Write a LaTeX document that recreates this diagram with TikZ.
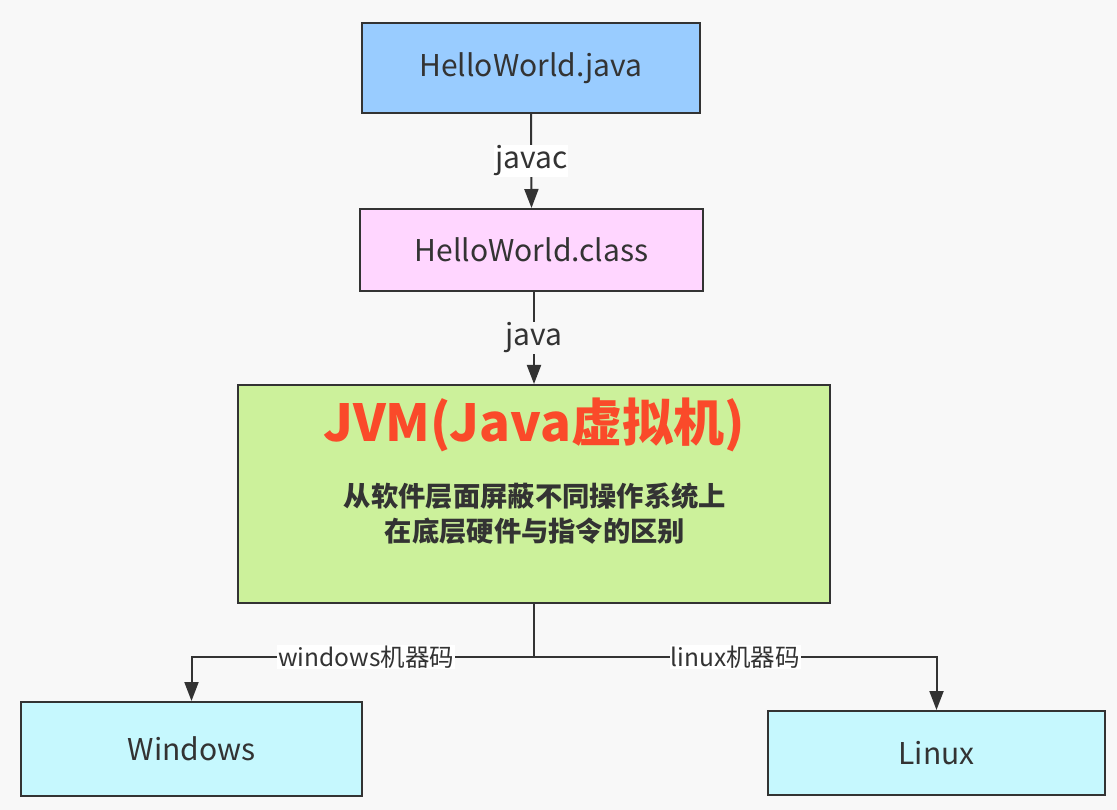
\documentclass[tikz,border=0pt]{standalone}
\usepackage{fontspec}
\setmainfont{Noto Sans CJK SC}
\usetikzlibrary{arrows.meta}
\definecolor{bgc}{HTML}{F8F8F8}
\definecolor{linec}{HTML}{333333}
\definecolor{blueb}{HTML}{99CCFF}
\definecolor{pinkb}{HTML}{FFD6FF}
\definecolor{greenb}{HTML}{CCF19B}
\definecolor{cyanb}{HTML}{C6F8FE}
\definecolor{redt}{HTML}{FA4A2A}
\tikzset{
  box/.style={draw=linec, line width=2pt, text=linec, inner sep=0pt},
  arr/.style={draw=linec, line width=2pt, -{Triangle[length=19pt,width=14pt]}},
  lbl/.style={fill=white, text=linec, inner sep=1pt, font=\fontsize{24.5}{27}\selectfont},
  vlbl/.style={fill=white, text=linec, inner sep=1pt, font=\fontsize{30}{33}\selectfont},
  main/.style={font=\fontsize{30}{33}\selectfont}
}
\begin{document}
\begin{tikzpicture}[x=1pt,y=-1pt]
\fill[bgc] (0,0) rectangle (1117,810);
\useasboundingbox (0,0) rectangle (1117,810);
\node[box, main, fill=blueb, minimum width=338pt, minimum height=90pt] (java) at (531,68) {HelloWorld.java};
\node[box, main, fill=pinkb, minimum width=343pt, minimum height=82pt] (cls) at (531.5,250) {HelloWorld.class};
\node[box, fill=greenb, minimum width=592pt, minimum height=218pt] (jvm) at (534,494) {};
\node[text=redt, font=\bfseries\fontsize{51}{55}\selectfont] (jvmt) at (534,425) {JVM(Java虚拟机)};
\node[text=linec, align=center, font=\bfseries\fontsize{27.3}{35}\selectfont] (jvmd) at (535,514) {从软件层面屏蔽不同操作系统上\\在底层硬件与指令的区别};
\node[box, main, fill=cyanb, minimum width=341pt, minimum height=94pt] (win) at (191.5,749) {Windows};
\node[box, main, fill=cyanb, minimum width=337pt, minimum height=84pt] (lin) at (936.5,753) {Linux};
\coordinate (split) at (534,657);
\coordinate (wc) at (win.north |- split);
\coordinate (lc) at (lin.north |- split);
\draw[arr] (java.south) -- node[vlbl]{javac} (cls.north);
\draw[arr] (cls.south -| jvm.north) -- node[vlbl, fill=bgc]{java} (jvm.north);
\draw[arr] (jvm.south) -- (split) -- node[lbl, pos=0.49]{windows机器码} (wc) -- (win.north);
\draw[arr] (split) -- node[lbl, pos=0.5]{linux机器码} (lc) -- (lin.north);
\end{tikzpicture}
\end{document}
